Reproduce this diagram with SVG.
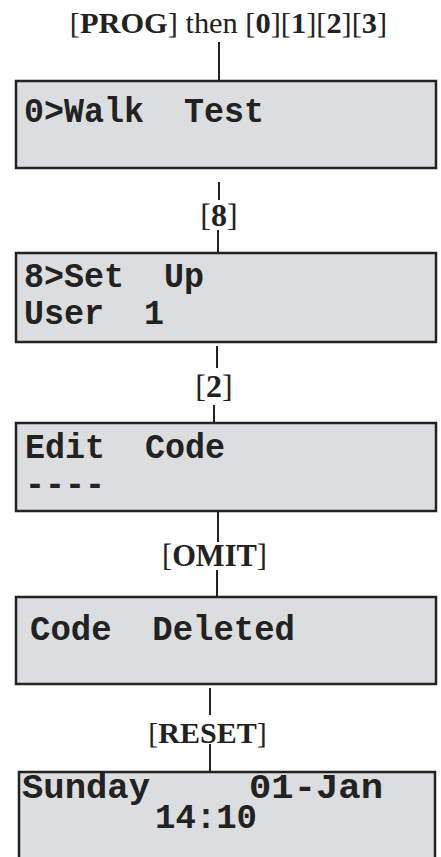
<svg xmlns="http://www.w3.org/2000/svg" width="441" height="857" viewBox="0 0 441 857">
<style>
.box{fill:#dcdddf;stroke:#222;stroke-width:2.5}
.lcd{font-family:"Liberation Mono","DejaVu Sans Mono",monospace;font-weight:bold;font-size:35px;fill:#222}
.key{font-family:"Liberation Serif","Times New Roman",serif;font-size:30px;fill:#222}
.b{font-weight:bold}
.conn line{stroke:#222;stroke-width:2}
</style>
<rect width="441" height="857" fill="#fff"/>
<g class="conn" id="connectors">
<line x1="219" y1="42" x2="219" y2="81"/>
<line x1="219" y1="182" x2="219" y2="200"/>
<line x1="218" y1="230" x2="218" y2="253"/>
<line x1="217" y1="346" x2="217" y2="368"/>
<line x1="214" y1="405" x2="214" y2="423"/>
<line x1="218" y1="512" x2="218" y2="542"/>
<line x1="217" y1="570" x2="217" y2="596"/>
<line x1="210" y1="688" x2="210" y2="715"/>
<line x1="210" y1="744" x2="210" y2="771"/>
</g>
<g id="label-start">
<text class="key" x="228.5" y="33" text-anchor="middle" style="font-size:30.4px">[<tspan class="b">PROG</tspan>] then [<tspan class="b">0</tspan>][<tspan class="b">1</tspan>][<tspan class="b">2</tspan>][<tspan class="b">3</tspan>]</text>
</g>
<g id="node-walk">
<rect class="box" x="16" y="81" width="420" height="87"/>
<text class="lcd" x="24" y="122" xml:space="preserve" textLength="240" lengthAdjust="spacingAndGlyphs">0&gt;Walk  Test</text>
</g>
<g id="label-8">
<text class="key" x="219" y="226" text-anchor="middle" style="font-size:32px">[<tspan class="b">8</tspan>]</text>
</g>
<g id="node-setup">
<rect class="box" x="16" y="253" width="420" height="89"/>
<text class="lcd" x="24" y="287" xml:space="preserve" textLength="180" lengthAdjust="spacingAndGlyphs">8&gt;Set  Up</text>
<text class="lcd" x="24" y="324" xml:space="preserve" textLength="140" lengthAdjust="spacingAndGlyphs">User  1</text>
</g>
<g id="label-2">
<text class="key" x="214" y="397" text-anchor="middle" style="font-size:32px">[<tspan class="b">2</tspan>]</text>
</g>
<g id="node-edit">
<rect class="box" x="16" y="423" width="420" height="88"/>
<text class="lcd" x="25" y="458" xml:space="preserve" textLength="200" lengthAdjust="spacingAndGlyphs">Edit  Code</text>
<text class="lcd" x="25" y="495" textLength="80" lengthAdjust="spacingAndGlyphs">----</text>
</g>
<g id="label-omit">
<text class="key" x="214.5" y="566" text-anchor="middle" style="font-size:30.5px">[<tspan class="b">OMIT</tspan>]</text>
</g>
<g id="node-deleted">
<rect class="box" x="16" y="597" width="420" height="87"/>
<text class="lcd" x="30" y="640" xml:space="preserve" textLength="265" lengthAdjust="spacingAndGlyphs">Code  Deleted</text>
</g>
<g id="label-reset">
<text class="key" x="207.5" y="743" text-anchor="middle">[<tspan class="b">RESET</tspan>]</text>
</g>
<g id="node-clock">
<rect class="box" x="19" y="772" width="416" height="90"/>
<text class="lcd" x="22" y="798" textLength="128" lengthAdjust="spacingAndGlyphs">Sunday</text>
<text class="lcd" x="249" y="798" textLength="134" lengthAdjust="spacingAndGlyphs">01-Jan</text>
<text class="lcd" x="155" y="828" textLength="102" lengthAdjust="spacingAndGlyphs">14:10</text>
</g>
</svg>
